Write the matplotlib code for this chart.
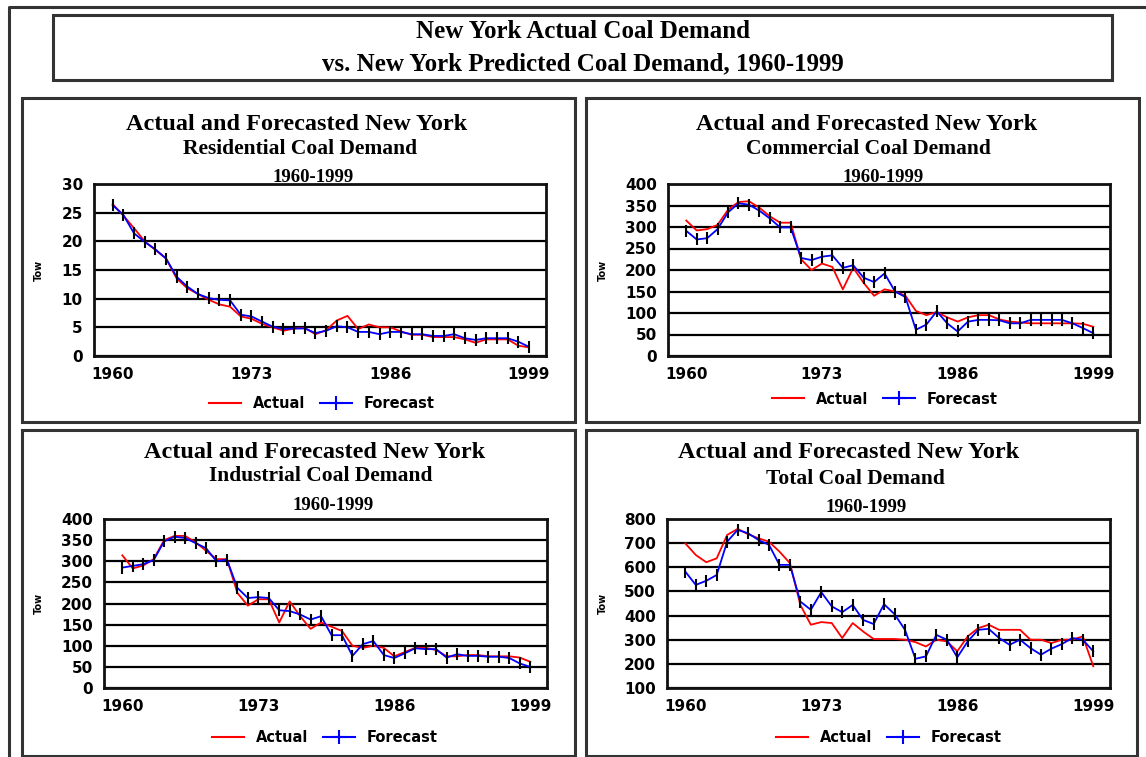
import matplotlib
matplotlib.use("Agg")
import matplotlib.pyplot as plt
from matplotlib.lines import Line2D
from matplotlib.patches import Rectangle
import numpy as np

W, H = 1146, 757

years = np.arange(1960, 2000)
xticks = [1960, 1973, 1986, 1999]

res_actual = [26.5, 24.5, 22.3, 20.0, 18.5, 17.0, 13.5, 11.8, 10.8, 9.8,
              9.0, 8.6, 6.9, 6.5, 5.6, 5.0, 4.4, 4.8, 4.9, 3.8,
              4.5, 6.2, 7.0, 4.7, 5.5, 5.0, 5.0, 4.3, 3.7, 3.7,
              3.3, 3.3, 3.3, 2.9, 2.3, 2.9, 2.9, 2.9, 1.8, 1.5]
res_forecast = [26.3, 24.6, 21.4, 19.9, 18.6, 17.0, 13.8, 12.1, 10.8, 10.1,
                9.8, 9.7, 7.2, 6.9, 6.0, 5.1, 4.7, 4.8, 4.8, 4.0,
                4.4, 5.2, 5.0, 4.2, 4.2, 3.8, 4.2, 4.2, 3.8, 3.8,
                3.5, 3.5, 3.8, 3.1, 2.8, 3.1, 3.1, 3.1, 2.5, 1.6]

com_actual = [315, 292, 295, 305, 340, 358, 360, 345, 325, 310,
              310, 225, 200, 215, 207, 155, 205, 170, 140, 155,
              150, 140, 105, 95, 102, 90, 80, 90, 95, 95,
              85, 80, 78, 76, 76, 76, 76, 76, 75, 68]
com_forecast = [291, 271, 274, 295, 334, 355, 352, 338, 320, 299,
                299, 228, 223, 231, 234, 205, 211, 182, 172, 192,
                150, 137, 61, 73, 104, 76, 57, 80, 84, 84,
                83, 76, 76, 84, 84, 84, 84, 76, 65, 53]

ind_actual = [314, 283, 290, 305, 350, 360, 360, 345, 325, 305,
              305, 225, 195, 210, 210, 155, 205, 170, 140, 155,
              145, 135, 100, 95, 100, 95, 75, 85, 95, 95,
              90, 75, 75, 78, 78, 75, 75, 75, 72, 62]
ind_forecast = [285, 289, 293, 303, 347, 358, 355, 343, 331, 300,
                304, 237, 213, 215, 213, 184, 182, 174, 162, 170,
                125, 125, 76, 104, 111, 78, 71, 82, 94, 92,
                92, 72, 80, 76, 76, 74, 74, 71, 58, 50]

tot_actual = [699, 651, 621, 637, 734, 759, 737, 720, 706, 665,
              617, 444, 362, 373, 369, 307, 369, 334, 303, 303,
              303, 300, 290, 272, 300, 293, 252, 314, 348, 362,
              341, 341, 341, 300, 300, 286, 300, 300, 314, 190]
tot_forecast = [582, 527, 544, 568, 706, 755, 741, 713, 693, 610,
                610, 458, 424, 497, 438, 414, 444, 382, 365, 447,
                406, 341, 221, 231, 320, 300, 227, 293, 341, 345,
                307, 279, 300, 265, 238, 263, 282, 307, 300, 252]

panels = [
    # subtitle, actual, forecast, y ticks, axes px box, panel px box,
    # title ys, title xs, legend centre
    ("Residential Coal Demand", res_actual, res_forecast, np.arange(0, 31, 5),
     (94, 184, 546, 356), (22, 98, 575, 422), (124, 149, 177), (297, 300, 313), (322, 404)),
    ("Commercial Coal Demand", com_actual, com_forecast, np.arange(0, 401, 50),
     (668, 184, 1110, 356), (586, 98, 1139, 422), (124, 149, 177), (867, 868, 883), (885, 399)),
    ("Industrial Coal Demand", ind_actual, ind_forecast, np.arange(0, 401, 50),
     (104, 519, 547, 688), (22, 430, 575, 756), (452, 476, 505), (315, 321, 333), (325, 738)),
    ("Total Coal Demand", tot_actual, tot_forecast, np.arange(100, 801, 100),
     (667, 519, 1110, 688), (586, 430, 1137, 756), (453, 479, 507), (849, 855, 866), (889, 738)),
]

serif = "Liberation Serif"
sans = "DejaVu Sans"

fig = plt.figure(figsize=(W / 100, H / 100), dpi=100)
fig.patch.set_facecolor("white")


def fx(x):
    return x / W


def fy(y):
    return 1 - y / H


def frame(x0, y0, x1, y1, lw=2.2):
    fig.add_artist(Rectangle((fx(x0), fy(y1)), fx(x1) - fx(x0), fy(y0) - fy(y1),
                             transform=fig.transFigure, fill=False,
                             edgecolor="#333333", linewidth=lw))


# outer border (left and top only)
fig.add_artist(Line2D([fx(9), fx(9), fx(W)], [0, fy(7), fy(7)],
                      transform=fig.transFigure, color="#333333", linewidth=2.2))
frame(53, 15, 1112, 80)
fig.text(fx(583), fy(32), "New York Actual Coal Demand", ha="center", va="center",
         family=serif, weight="bold", fontsize=18)
fig.text(fx(583), fy(64), "vs. New York Predicted Coal Demand, 1960-1999", ha="center",
         va="center", family=serif, weight="bold", fontsize=18)

for sub, act, fc, yt, abox, pbox, tys, txs, leg in panels:
    frame(*pbox)
    fig.text(fx(txs[0]), fy(tys[0]), "Actual and Forecasted New York", ha="center",
             va="center", family=serif, weight="bold", fontsize=17.5)
    fig.text(fx(txs[1]), fy(tys[1]), sub, ha="center", va="center",
             family=serif, weight="bold", fontsize=15.5)
    fig.text(fx(txs[2]), fy(tys[2]), "1960-1999", ha="center", va="center",
             family=serif, weight="bold", fontsize=13.5)

    x0, y0, x1, y1 = abox
    ax = fig.add_axes([fx(x0), fy(y1), fx(x1) - fx(x0), fy(y0) - fy(y1)])
    ax.plot(years, act, color="red", linewidth=1.3, zorder=3)
    ax.plot(years, fc, color="blue", linewidth=1.3, zorder=4)
    ax.plot(years, fc, linestyle="none", marker="|", markersize=8,
            markeredgewidth=1.5, color="black", zorder=5)
    ax.set_xlim(1958.25, 2000.6)
    ax.set_ylim(yt[0], yt[-1])
    ax.set_yticks(yt)
    ax.set_xticks(xticks)
    ax.yaxis.grid(True, color="black", linewidth=1.6)
    ax.set_axisbelow(True)
    ax.tick_params(length=0, labelsize=11, pad=8)
    for lab in ax.get_xticklabels() + ax.get_yticklabels():
        lab.set_fontweight("bold")
        lab.set_family(sans)
    for s in ax.spines.values():
        s.set_linewidth(2)
        s.set_color("#111111")
    fig.text(fx(pbox[0] + 17), fy((y0 + y1) / 2), "Tow", rotation=90, ha="center",
             va="center", family=sans, weight="bold", fontsize=7)

    handles = [Line2D([], [], color="red", linewidth=1.5),
               Line2D([], [], color="blue", linewidth=1.5, marker="+",
                      markersize=10, markeredgewidth=1.5)]
    fig.legend(handles, ["Actual", "Forecast"], loc="center",
               bbox_to_anchor=(fx(leg[0]), fy(leg[1])), ncol=2, frameon=False,
               handlelength=2.2, columnspacing=1.0, handletextpad=0.8,
               prop={"family": sans, "weight": "bold", "size": 10.5})

fig.savefig("out.png", dpi=100)
